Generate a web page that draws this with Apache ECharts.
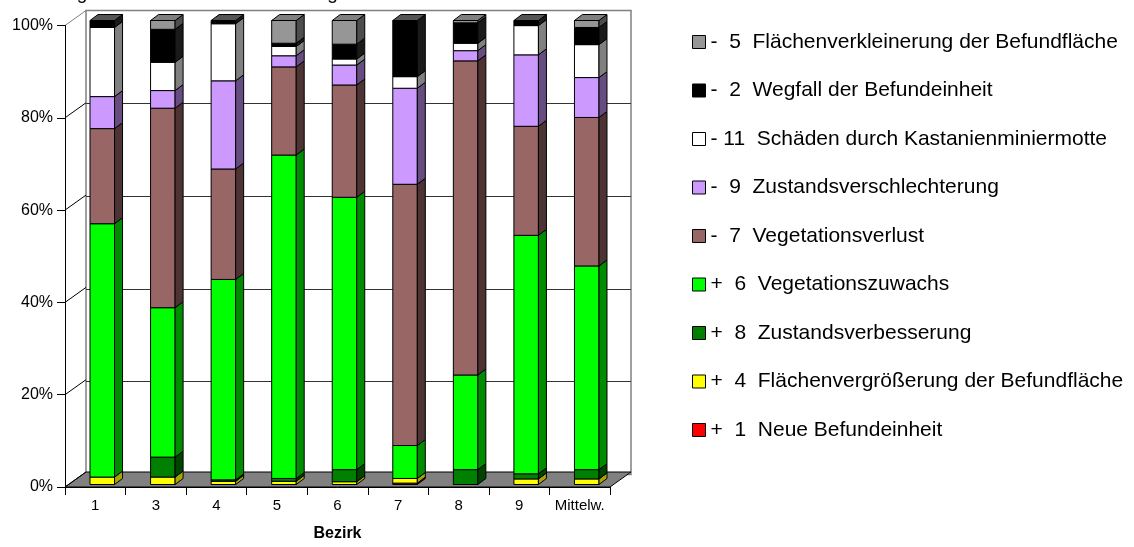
<!DOCTYPE html>
<html>
<head>
<meta charset="utf-8">
<style>
  html, body { margin: 0; padding: 0; background: #fff; }
  #chart { width: 1134px; height: 547px; }
</style>
<script src="https://cdn.jsdelivr.net/npm/echarts@6/dist/echarts.min.js"></script>
</head>
<body>
<div id="chart"></div>
<script>
// Bezirke (x axis)
const categories = ['1', '3', '4', '5', '6', '7', '8', '9', 'Mittelw.'];

// Share of each change type per Bezirk, in percent (stacked bottom to top)
const neueBefundeinheit        = [0,    0,    0,    0,    0,    0.3,  0,    0,    0];
const flaechenvergroesserung   = [1.6,  1.6,  0.7,  0.7,  0.6,  1.0,  0,    1.2,  1.2];
const zustandsverbesserung     = [0,    4.3,  0.3,  0.6,  2.6,  0,    3.2,  1.1,  2.0];
const vegetationszuwachs       = [54.6, 32.2, 43.2, 69.7, 58.7, 7.1,  20.4, 51.4, 43.9];
const vegetationsverlust       = [20.5, 43.0, 23.8, 19.0, 24.2, 56.3, 67.7, 23.5, 32.0];
const zustandsverschlechterung = [6.9,  3.8,  19.0, 2.4,  4.3,  20.7, 2.2,  15.4, 8.6];
const kastanienminiermotte     = [14.9, 6.1,  12.3, 2.0,  1.3,  2.5,  1.6,  6.3,  7.1];
const wegfall                  = [1.5,  7.1,  0.7,  0.7,  3.2,  12.1, 4.4,  1.1,  3.7];
const flaechenverkleinerung    = [0,    1.9,  0,    4.9,  5.1,  0,    0.5,  0,    1.5];

// Value axis ticks
const yTicks = [0, 20, 40, 60, 80, 100];

const FONT = '"Liberation Sans", Arial, sans-serif';

// Series in stacking order, with front / side / top face colours
const layers = [
  { name: '+  1  Neue Befundeinheit', values: neueBefundeinheit, front: '#ff0000', side: '#800000', top: '#cc0000' },
  { name: '+  4  Flächenvergrößerung der Befundfläche', values: flaechenvergroesserung, front: '#ffff00', side: '#a6a600', top: '#cccc00' },
  { name: '+  8  Zustandsverbesserung', values: zustandsverbesserung, front: '#008000', side: '#004400', top: '#006600' },
  { name: '+  6  Vegetationszuwachs', values: vegetationszuwachs, front: '#00ff00', side: '#008c00', top: '#00cc00' },
  { name: '-  7  Vegetationsverlust', values: vegetationsverlust, front: '#996666', side: '#4d3333', top: '#7a5252' },
  { name: '-  9  Zustandsverschlechterung', values: zustandsverschlechterung, front: '#cc99ff', side: '#664c80', top: '#a37acc' },
  { name: '- 11  Schäden durch Kastanienminiermotte', values: kastanienminiermotte, front: '#ffffff', side: '#808080', top: '#d9d9d9' },
  { name: '-  2  Wegfall der Befundeinheit', values: wegfall, front: '#000000', side: '#1a1a1a', top: '#555555' },
  { name: '-  5  Flächenverkleinerung der Befundfläche', values: flaechenverkleinerung, front: '#969696', side: '#4d4d4d', top: '#808080' }
];

// Depth of the 3D box (back wall offset from the front plane)
const DEPTH_X = 21, DEPTH_Y = 15;
// Bars stand one third into the box; their own side/top depth
const BAR_X = 7, BAR_Y = 5;
const SIDE_X = 8, SIDE_Y = 6;
const BAR_RATIO = 0.405;

const FRONT = { left: 65, top: 25.5, width: 545, height: 464 };
const BACK = { left: FRONT.left + DEPTH_X, top: FRONT.top - DEPTH_Y, width: FRONT.width, height: FRONT.height };
const BARS = { left: FRONT.left + BAR_X, top: FRONT.top - BAR_Y, width: FRONT.width, height: FRONT.height };

// Which layer is the uppermost non-empty one in each column
const topLayer = categories.map((c, i) => {
  let t = -1;
  layers.forEach((l, k) => { if (l.values[i] > 0) t = k; });
  return t;
});

// Stack segments: [category, base, top, isTopmost]
const cumulative = categories.map(() => 0);
const barSeries = layers.map((layer, k) => {
  const data = layer.values.map((v, i) => {
    const lo = cumulative[i];
    const hi = lo + v;
    cumulative[i] = hi;
    return [i, lo, hi, topLayer[i] === k ? 1 : 0];
  });
  return {
    type: 'custom',
    name: layer.name,
    xAxisIndex: 2,
    yAxisIndex: 2,
    z: 5,
    itemStyle: { color: layer.front, borderColor: '#000', borderWidth: 1 },
    data: data,
    renderItem: function (params, api) {
      const cat = api.value(0), lo = api.value(1), hi = api.value(2), isTop = api.value(3);
      if (hi - lo <= 0) return;
      const pLo = api.coord([cat, lo]);
      const pHi = api.coord([cat, hi]);
      const bw = api.size([1, 0])[0] * BAR_RATIO;
      const x0 = pLo[0] - bw / 2, x1 = x0 + bw;
      const y0 = pLo[1], y1 = pHi[1];
      const stroke = { stroke: '#000', lineWidth: 1 };
      const children = [
        { type: 'rect', shape: { x: x0, y: y1, width: bw, height: y0 - y1 },
          style: Object.assign({ fill: layer.front }, stroke) },
        { type: 'polygon', shape: { points: [[x1, y0], [x1, y1], [x1 + SIDE_X, y1 - SIDE_Y], [x1 + SIDE_X, y0 - SIDE_Y]] },
          style: Object.assign({ fill: layer.side }, stroke) }
      ];
      if (isTop) {
        children.push({ type: 'polygon',
          shape: { points: [[x0, y1], [x1, y1], [x1 + SIDE_X, y1 - SIDE_Y], [x0 + SIDE_X, y1 - SIDE_Y]] },
          style: Object.assign({ fill: layer.top }, stroke) });
      }
      return { type: 'group', children: children };
    }
  };
});

// Floor of the box
const floorSeries = {
  type: 'custom',
  xAxisIndex: 0,
  yAxisIndex: 0,
  z: 2,
  silent: true,
  data: [[0, 0]],
  renderItem: function (params, api) {
    const cs = params.coordSys;
    const p = api.coord([0, yTicks[0]]);
    const yb = p[1];
    return {
      type: 'polygon',
      shape: { points: [[cs.x, yb], [cs.x + cs.width, yb], [cs.x + cs.width + DEPTH_X, yb - DEPTH_Y], [cs.x + DEPTH_X, yb - DEPTH_Y]] },
      style: { fill: '#808080', stroke: '#000', lineWidth: 1 }
    };
  }
};

// Left side wall: lines from the front value axis back to the wall gridlines
const sideWallSeries = {
  type: 'custom',
  xAxisIndex: 0,
  yAxisIndex: 0,
  z: 3,
  silent: true,
  data: yTicks.map(v => [0, v]),
  renderItem: function (params, api) {
    const cs = params.coordSys;
    const v = api.value(1);
    const y = api.coord([0, v])[1];
    return {
      type: 'line',
      shape: { x1: cs.x, y1: y, x2: cs.x + DEPTH_X, y2: y - DEPTH_Y },
      style: { stroke: v === yTicks[yTicks.length - 1] ? '#808080' : '#000', lineWidth: 1 }
    };
  }
};

const chart = echarts.init(document.getElementById('chart'), null, { renderer: 'canvas' });

chart.setOption({
  backgroundColor: '#ffffff',
  animation: false,
  graphic: [{
    type: 'text',
    left: 5,
    top: -16,
    style: { text: 'Änderungen der Befundflächen im Vergleich', font: '19px ' + FONT, fill: '#000' }
  }],
  legend: {
    orient: 'vertical',
    left: 692,
    top: 31.5,
    padding: 0,
    itemWidth: 13,
    itemHeight: 13,
    itemGap: 27.5,
    icon: 'rect',
    itemStyle: { borderColor: '#000', borderWidth: 1 },
    textStyle: { fontFamily: FONT, fontSize: 21, color: '#000', lineHeight: 20 },
    selectedMode: false,
    data: layers.map(l => l.name).reverse()
  },
  grid: [
    Object.assign({ containLabel: false }, FRONT),
    Object.assign({ show: true, backgroundColor: '#fff', borderColor: '#808080', borderWidth: 1.5, z: -1 }, BACK),
    Object.assign({}, BARS)
  ],
  xAxis: [
    {
      gridIndex: 0,
      type: 'category',
      data: categories,
      boundaryGap: true,
      axisLine: { show: true, lineStyle: { color: '#000', width: 1 } },
      axisTick: { show: true, length: 8, interval: 0, lineStyle: { color: '#000' } },
      axisLabel: { interval: 0, margin: 11, fontFamily: FONT, fontSize: 15, color: '#000' },
      splitLine: { show: false },
      name: 'Bezirk',
      nameLocation: 'middle',
      nameGap: 39,
      nameTextStyle: { fontFamily: FONT, fontSize: 16, fontWeight: 'bold', color: '#000' },
      z: 4
    },
    { gridIndex: 1, type: 'category', data: categories, show: false },
    { gridIndex: 2, type: 'category', data: categories, show: false }
  ],
  yAxis: [
    {
      gridIndex: 0,
      type: 'value',
      min: yTicks[0],
      max: yTicks[yTicks.length - 1],
      interval: 20,
      axisLine: { show: true, lineStyle: { color: '#000', width: 1 } },
      axisTick: { show: true, length: 8, lineStyle: { color: '#000' } },
      axisLabel: { margin: 12, fontFamily: FONT, fontSize: 16, color: '#000', formatter: '{value}%' },
      splitLine: { show: false },
      z: 4
    },
    {
      gridIndex: 1,
      type: 'value',
      min: yTicks[0],
      max: yTicks[yTicks.length - 1],
      interval: 20,
      axisLine: { show: false },
      axisTick: { show: false },
      axisLabel: { show: false },
      splitLine: { show: true, showMinLine: false, showMaxLine: false, lineStyle: { color: '#333', width: 1 } }
    },
    {
      gridIndex: 2,
      type: 'value',
      min: yTicks[0],
      max: yTicks[yTicks.length - 1],
      show: false
    }
  ],
  series: [floorSeries, sideWallSeries].concat(barSeries)
});
</script>
</body>
</html>
